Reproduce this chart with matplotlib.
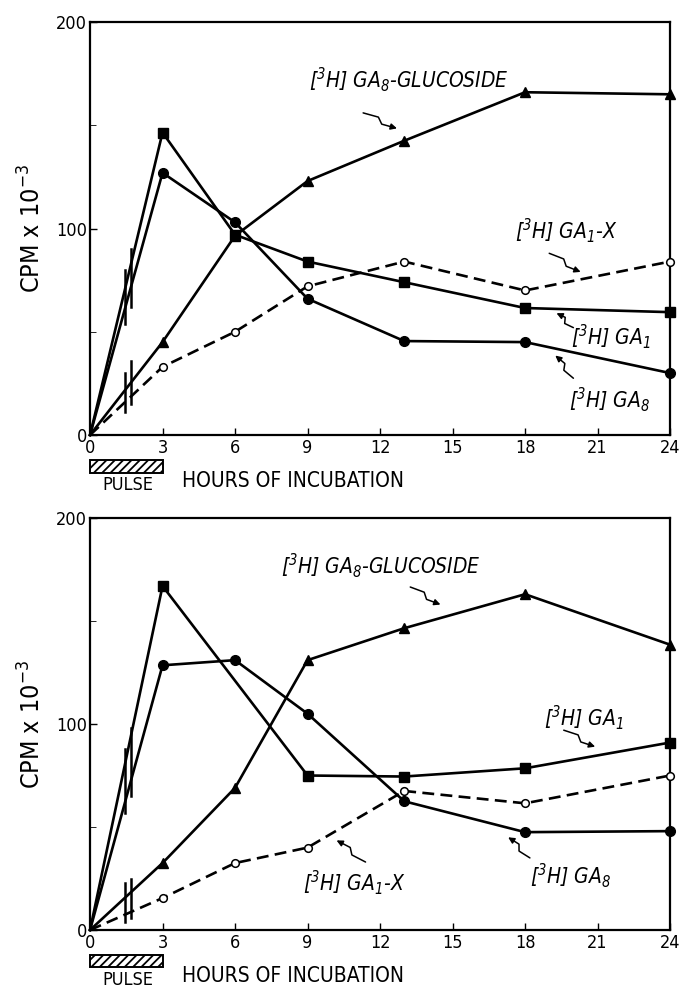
import numpy as np
import matplotlib
matplotlib.use('Agg')
import matplotlib.pyplot as plt
from matplotlib.patches import Rectangle, FancyArrowPatch
from matplotlib.path import Path
from matplotlib.transforms import IdentityTransform

plt.rcParams['font.family'] = ['Liberation Sans Narrow', 'DejaVu Sans']
plt.rcParams['font.stretch'] = 'condensed'
plt.rcParams['mathtext.default'] = 'regular'
plt.rcParams['hatch.linewidth'] = 1.3

# hours of incubation
hours = [0, 3, 6, 9, 13, 18, 24]
hours_top_ga1 = [0, 3, 6, 9, 13, 18, 24]
hours_bot_ga1 = [0, 3, 9, 13, 18, 24]

# top panel (CPM x 10^-3)
top_ga1 = [0, 146.5, 97, 84, 74, 61.5, 59.5]
top_ga8 = [0, 127, 103, 66, 45.5, 45, 30]
top_gluc = [0, 45, 96.5, 123, 142.5, 166, 165]
top_ga1x = [0, 33, 50, 72, 84, 70, 84]

# bottom panel
bot_ga1 = [0, 167, 75, 74.5, 78.5, 91]
bot_ga8 = [0, 128.5, 131, 105, 62.5, 47.5, 48]
bot_gluc = [0, 32.5, 69, 131, 146.5, 163, 138.5]
bot_ga1x = [0, 15.5, 32.5, 40, 67.5, 61.5, 75]

# break marks on the 0-3 h segments: (hour, low, high)
top_breaks = [(1.44, 54, 80), (1.69, 62, 90), (1.44, 11, 30), (1.69, 15, 36)]
bot_breaks = [(1.44, 57, 88), (1.69, 65, 98), (1.44, 4, 23), (1.69, 6, 25)]

xticks = [0, 3, 6, 9, 12, 15, 18, 21, 24]


def squiggle_arrow(ax, tail, tip):
    # little zig-zag arrow like the hand-lettered originals
    p0 = ax.transData.transform(tail)
    p3 = ax.transData.transform(tip)
    d = p3 - p0
    n = np.array([-d[1], d[0]]) / np.hypot(*d)
    p1 = p0 + 0.42 * d + 2.5 * n
    p2 = p0 + 0.58 * d - 2.5 * n
    path = Path([p0, p1, p2, p3], [Path.MOVETO, Path.LINETO, Path.LINETO, Path.LINETO])
    ax.add_patch(FancyArrowPatch(path=path, arrowstyle='-|>', color='k', lw=1.1,
                                 mutation_scale=9, transform=IdentityTransform()))


def panel(ax, x_ga1, ga1, ga8, gluc, ga1x, breaks, labels):
    lw = 1.9
    ax.plot(hours, ga1x, color='k', lw=lw, dashes=(4.5, 2.4), marker='o',
            ms=5.5, mfc='white', mec='k', mew=1.1, zorder=3)
    ax.plot(hours, gluc, color='k', lw=lw, marker='^', ms=7, zorder=4)
    ax.plot(hours, ga8, color='k', lw=lw, marker='o', ms=7, zorder=4)
    ax.plot(x_ga1, ga1, color='k', lw=lw, marker='s', ms=6.5, zorder=4)
    # no marker at 0 h, and let the 24 h markers sit on the frame
    for ln in ax.lines:
        ln.set_markevery(list(range(1, len(ln.get_xdata()))))
        ln.set_clip_on(False)
    for hx, lo, hi in breaks:
        ax.plot([hx, hx], [lo, hi], color='k', lw=1.8, zorder=5)

    ax.set_xlim(0, 24)
    ax.set_ylim(0, 200)
    ax.set_xticks(xticks)
    ax.set_xticklabels([str(t) for t in xticks])
    ax.set_yticks([0, 100, 200])
    ax.set_yticks([50, 150], minor=True)
    ax.set_yticklabels(['0', '100', '200'])
    ax.tick_params(axis='both', direction='in', length=5, width=1,
                   labelsize=13, pad=2)
    ax.tick_params(axis='y', which='minor', direction='in', length=4)
    ax.tick_params(axis='x', pad=3)
    for s in ax.spines.values():
        s.set_linewidth(1.6)
    ax.set_ylabel(r'CPM x 10$^{-3}$', fontsize=18, labelpad=8)
    ax.set_xlabel('HOURS OF INCUBATION', fontsize=15)
    ax.xaxis.set_label_coords(0.35, -0.088)

    for txt, tx, ty, tail, tip in labels:
        ax.text(tx, ty, txt, fontsize=15, style='italic', ha='left',
                va='center')
        squiggle_arrow(ax, tail, tip)

    # pulse bar under the first 3 hours
    tr = ax.get_xaxis_transform()
    ax.add_patch(Rectangle((0, -0.06), 3, -0.031, transform=tr, fill=False,
                           hatch='////', lw=1.4, clip_on=False))
    ax.text(1.55, -0.099, 'PULSE', transform=tr, ha='center', va='top',
            fontsize=13)


fig = plt.figure(figsize=(6.8, 9.88), dpi=100)
ax1 = fig.add_axes([0.1324, 0.5597, 0.853, 0.418])
ax2 = fig.add_axes([0.1324, 0.0587, 0.853, 0.417])

top_labels = [
    (r'[$^3$H] GA$_8$-GLUCOSIDE', 9.05, 172, (11.3, 156), (12.7, 148.5)),
    (r'[$^3$H] GA$_1$-X', 17.6, 99, (19.0, 88), (20.3, 79)),
    (r'[$^3$H] GA$_1$', 19.9, 47.5, (20.0, 52), (19.3, 59)),
    (r'[$^3$H] GA$_8$', 19.8, 17, (20.0, 27.5), (19.25, 38.5)),
]
bot_labels = [
    (r'[$^3$H] GA$_8$-GLUCOSIDE', 7.9, 177, (13.25, 166.5), (14.5, 158)),
    (r'[$^3$H] GA$_1$', 18.8, 103, (19.6, 97), (20.9, 89)),
    (r'[$^3$H] GA$_1$-X', 8.8, 23, (11.4, 33), (10.2, 43.5)),
    (r'[$^3$H] GA$_8$', 18.2, 26.5, (18.2, 35), (17.3, 45)),
]

panel(ax1, hours_top_ga1, top_ga1, top_ga8, top_gluc, top_ga1x, top_breaks, top_labels)
panel(ax2, hours_bot_ga1, bot_ga1, bot_ga8, bot_gluc, bot_ga1x, bot_breaks, bot_labels)

fig.savefig('out.png', dpi=100)
